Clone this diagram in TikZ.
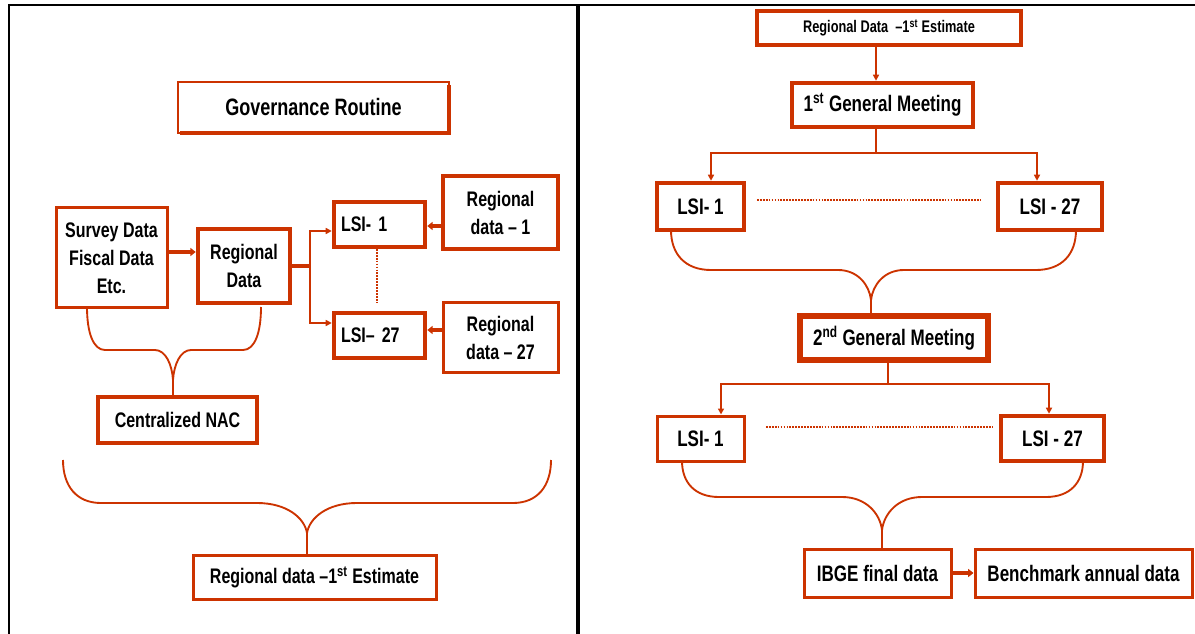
\documentclass[tikz,border=0pt]{standalone}
\usepackage{fontspec}
\setmainfont{Liberation Sans}[FakeStretch=0.76]
\usetikzlibrary{arrows.meta,calc}
\definecolor{rust}{RGB}{204,51,0}
\newcommand\pxu{0.75pt}
\newcommand{\curly}[9]{%
  \draw[brc] (#1,#3) .. controls (#1,{#3+0.6*(#4-#3)}) and ({#1+0.35*#5},#4) .. ({#1+#5},#4)
    -- ({#6-#7},#4) .. controls ({#6-0.4*#7},#4) and ({#6-0.05*#7},{#8-0.5*(#8-#4)}) .. (#6,#8) -- (#6,#9);
  \draw[brc] (#2,#3) .. controls (#2,{#3+0.6*(#4-#3)}) and ({#2-0.35*#5},#4) .. ({#2-#5},#4)
    -- ({#6+#7},#4) .. controls ({#6+0.4*#7},#4) and ({#6+0.05*#7},{#8-0.5*(#8-#4)}) .. (#6,#8);}
\tikzset{
  bx/.style={draw=rust, line width=2.25pt, fill=white, inner sep=0pt, align=center,
    font=\fontsize{15.8}{21}\selectfont\bfseries},
  bxk/.style={bx, line width=3.4pt},
  rfont/.style={font=\fontsize{16.8}{20}\selectfont\bfseries},
  sz/.style n args={2}{minimum width=#1*\pxu, minimum height=#2*\pxu},
  arr/.style={draw=rust, line width=1.5pt, -{Triangle[length=4.5pt,width=4.5pt]}},
  karr/.style={draw=rust, line width=2.7pt, -{Triangle[length=4pt,width=6pt]}},
  kline/.style={draw=rust, line width=3pt},
  tline/.style={draw=rust, line width=1.5pt},
  dots/.style={draw=rust, line width=1.3pt, dash pattern=on 1.3pt off 0.9pt},
  brc/.style={draw=rust, line width=1.4pt},
  frame/.style={draw=black, line width=1.6pt},
}
\begin{document}
\begin{tikzpicture}[x=0.75pt, y=-0.75pt]
\useasboundingbox (0,0) rectangle (1195,634);
% frame
\draw[frame] (9,634) -- (9,5) -- (1195,5);
\draw[draw=black, line width=2.4pt] (578,5) -- (578,634);

% ---------- left panel ----------
\node[bx, sz={271}{51}, line width=1.5pt, font=\fontsize{17.8}{20}\selectfont\bfseries] (gov) at (313.5,107.5) {Governance Routine};
\draw[draw=rust, line width=3pt] ($(gov.south west)+(3,-1)$) -- ($(gov.south east)+(-1,-1)$) -- ($(gov.north east)+(-1,4)$);

\node[bx, sz={111}{100}] (survey) at (111.5,258) {Survey Data\\Fiscal Data\\Etc.};
\node[bxk, sz={92}{74}] (regdata) at (244,266) {Regional\\Data};
\node[bxk, sz={91}{45}, inner xsep=7*\pxu, text width=77*\pxu, align=left] (lsi1l) at (379.5,224.5) {LSI- 1};
\node[bxk, sz={91}{45}, inner xsep=7*\pxu, text width=77*\pxu, align=left] (lsi27l) at (379.5,335.5) {LSI-- 27};
\node[bxk, sz={115}{73}] (rd1) at (500.5,212.5) {Regional\\data -- 1};
\node[bx, sz={115}{69}] (rd27) at (500.5,337.5) {Regional\\data -- 27};
\node[bxk, sz={159}{46}] (nac) at (177.5,420) {Centralized NAC};
\node[bx, sz={243}{44}] (est1) at (314.5,577) {Regional data --1\textsuperscript{st} Estimate};

\draw[karr] (survey.east |- 0,252) -- (regdata.west |- 0,252);
\coordinate (fork) at (310,266);
\draw[kline] (regdata.east |- fork) -- (fork);
\draw[arr] (fork) |- (lsi1l.west |- 0,231);
\draw[arr] (fork) |- (lsi27l.west |- 0,323);
\draw[karr] (rd1.west |- 0,226) -- (lsi1l.east |- 0,226);
\draw[karr] (rd27.west |- 0,330) -- (lsi27l.east |- 0,330);
\draw[dots] (377,249) -- (377,303);

\curly{87}{261}{307}{350}{18}{173}{18}{380}{397}
\curly{63}{551}{460}{503}{38}{307}{50}{533}{555}

% ---------- right panel ----------
\node[bxk, sz={264}{34}, font=\fontsize{12.6}{14}\selectfont\bfseries] (rtop) at (889,28) {Regional Data \ --1\textsuperscript{st} Estimate};
\node[bxk, sz={181}{44}, rfont] (gm1) at (882.5,105) {1\textsuperscript{st} General Meeting};
\node[bxk, sz={87}{47}, rfont] (lsi1u) at (700.5,206.5) {LSI- 1};
\node[bxk, sz={104}{47}, rfont] (lsi27u) at (1050,206.5) {LSI - 27};
\node[bx, sz={188}{44}, line width=4pt, rfont] (gm2) at (894,338) {2\textsuperscript{nd} General Meeting};
\node[bx, sz={87}{45}, rfont] (lsi1d) at (700.5,438.5) {LSI- 1};
\node[bxk, sz={103}{45}, rfont] (lsi27d) at (1052.5,438.5) {LSI - 27};
\node[bx, sz={147}{48}, rfont] (ibge) at (877.5,573) {IBGE final data};
\node[bx, sz={217}{48}, rfont] (bench) at (1083.5,573) {Benchmark annual data};

\draw[arr] (rtop.south -| 876,0) -- (gm1.north -| 876,0);
\coordinate (br1) at (876,153);
\draw[tline] (gm1.south -| br1) -- (br1);
\draw[arr] (br1) -| (lsi1u.north -| 711,0);
\draw[arr] (br1) -| (lsi27u.north -| 1037,0);
\draw[dots] (757,200) -- (980,200);

\coordinate (br2) at (888,384);
\draw[tline] (gm2.south -| br2) -- (br2);
\draw[arr] (br2) -| (lsi1d.north -| 721,0);
\draw[arr] (br2) -| (lsi27d.north -| 1049,0);
\draw[dots] (766,427) -- (992,427);

\draw[karr] (ibge.east) -- (bench.west);

\curly{671}{1076}{230}{270}{40}{871}{33}{300}{316}
\curly{682}{1083}{461}{497}{37}{882}{40}{530}{549}
\end{tikzpicture}
\end{document}
